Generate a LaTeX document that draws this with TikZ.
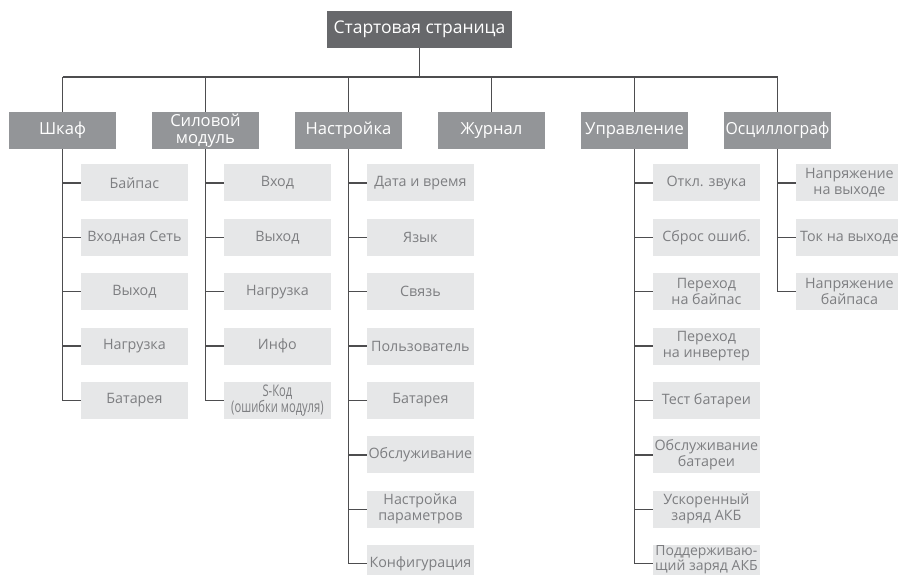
\documentclass[tikz,border=0pt]{standalone}
\usepackage{fontspec}
\setmainfont{Open Sans}
\usetikzlibrary{positioning}

\definecolor{startgray}{HTML}{67686B}
\definecolor{catgray}{HTML}{939598}
\definecolor{leafgray}{HTML}{E6E7E8}
\definecolor{leaftext}{HTML}{7D7E81}
\definecolor{linegray}{HTML}{4D4D4F}

\tikzset{
  startbox/.style={fill=startgray, text=white, minimum width=185pt, minimum height=37pt, inner sep=1pt, font=\fontsize{17.5}{18}\selectfont},
  cat/.style={fill=catgray, text=white, minimum width=107pt, minimum height=37pt, inner xsep=0pt, inner ysep=1pt, align=center, font=\fontsize{16.6}{16.5}\selectfont},
  leaf/.style={fill=leafgray, text=leaftext, minimum width=107pt, minimum height=37pt, inner xsep=0pt, inner ysep=1pt, align=center, font=\fontsize{14.3}{16}\selectfont},
  link/.style={draw=linegray, line width=1.4pt}
}

\begin{document}
\begin{tikzpicture}[x=1pt, y=1pt]
    \useasboundingbox (0,0) rectangle (898,-575);

    % top of the menu and the main sections
    \node[startbox] (start) at (419.5,-29.5) {Стартовая страница};
    \coordinate (bus) at (0,-77);
    \node[cat] (shkaf) at (62.5,-130.5) {Шкаф};
    \node[cat, right=35.6pt of shkaf] (power) {Силовой\\модуль};
    \node[cat, right=35.6pt of power] (setup) {Настройка};
    \node[cat, right=35.6pt of setup] (log) {Журнал};
    \node[cat, right=35.6pt of log] (ctrl) {Управление};
    \node[cat, right=35.6pt of ctrl] (osc) {\scalebox{0.95}[1]{Осциллограф}};

    % Шкаф
    \node[leaf, below right=15pt and -35.5pt of shkaf] (sk1) {Байпас};
    \node[leaf, below=17pt of sk1] (sk2) {Входная Сеть};
    \node[leaf, below=17pt of sk2] (sk3) {Выход};
    \node[leaf, below=17pt of sk3] (sk4) {Нагрузка};
    \node[leaf, below=17pt of sk4] (sk5) {Батарея};

    % Силовой модуль
    \node[leaf, below right=15pt and -35.5pt of power] (pw1) {Вход};
    \node[leaf, below=17pt of pw1] (pw2) {Выход};
    \node[leaf, below=17pt of pw2] (pw3) {Нагрузка};
    \node[leaf, below=17pt of pw3] (pw4) {Инфо};
    \node[leaf, below=17pt of pw4, font=\fontsize{16}{13}\selectfont] (pw5) {\scalebox{0.7}[1]{S-Код}\\\scalebox{0.7}[1]{(ошибки модуля)}};

    % Настройка
    \node[leaf, below right=15pt and -35.5pt of setup] (st1) {Дата и время};
    \node[leaf, below=17pt of st1] (st2) {Язык};
    \node[leaf, below=17pt of st2] (st3) {Связь};
    \node[leaf, below=17pt of st3] (st4) {Пользователь};
    \node[leaf, below=17pt of st4] (st5) {Батарея};
    \node[leaf, below=17pt of st5] (st6) {Обслуживание};
    \node[leaf, below=17pt of st6] (st7) {Настройка\\параметров};
    \node[leaf, below=17pt of st7] (st8) {Конфигурация};

    % Управление
    \node[leaf, below right=15pt and -35.5pt of ctrl] (ct1) {Откл. звука};
    \node[leaf, below=17pt of ct1] (ct2) {Сброс ошиб.};
    \node[leaf, below=17pt of ct2] (ct3) {Переход\\на байпас};
    \node[leaf, below=17pt of ct3] (ct4) {Переход\\на инвертер};
    \node[leaf, below=17pt of ct4] (ct5) {Тест батареи};
    \node[leaf, below=17pt of ct5] (ct6) {Обслуживание\\батареи};
    \node[leaf, below=17pt of ct6] (ct7) {Ускоренный\\заряд АКБ};
    % last item sits on the lower edge, its text goes a little higher
    \node[leaf, below=17pt of ct7,
          label={[text=leaftext, align=center, font=\fontsize{14}{15}\selectfont, yshift=4pt]center:Поддерживаю-\\щий заряд АКБ}] (ct8) {};

    % Осциллограф
    \node[leaf, below right=15pt and -35.5pt of osc] (os1) {Напряжение\\на выходе};
    \node[leaf, below=17pt of os1] (os2) {Ток на выходе};
    \node[leaf, below=17pt of os2] (os3) {Напряжение\\байпаса};

    % bus under the start page
    \draw[link] (start.south) -- (start.south |- bus);
    \draw[link] (shkaf.north |- bus) -- (osc.north |- bus);
    \draw[link] (shkaf.north) -- (shkaf.north |- bus);
    \draw[link] (power.north) -- (power.north |- bus);
    \draw[link] (setup.north) -- (setup.north |- bus);
    \draw[link] (log.north) -- (log.north |- bus);
    \draw[link] (ctrl.north) -- (ctrl.north |- bus);
    \draw[link] (osc.north) -- (osc.north |- bus);

    % branches to the items
    \draw[link] (shkaf.south) |- (sk1.west);
    \draw[link] (shkaf.south) |- (sk2.west);
    \draw[link] (shkaf.south) |- (sk3.west);
    \draw[link] (shkaf.south) |- (sk4.west);
    \draw[link] (shkaf.south) |- (sk5.west);

    \draw[link] (power.south) |- (pw1.west);
    \draw[link] (power.south) |- (pw2.west);
    \draw[link] (power.south) |- (pw3.west);
    \draw[link] (power.south) |- (pw4.west);
    \draw[link] (power.south) |- (pw5.west);

    \draw[link] (setup.south) |- (st1.west);
    \draw[link] (setup.south) |- (st2.west);
    \draw[link] (setup.south) |- (st3.west);
    \draw[link] (setup.south) |- (st4.west);
    \draw[link] (setup.south) |- (st5.west);
    \draw[link] (setup.south) |- (st6.west);
    \draw[link] (setup.south) |- (st7.west);
    \draw[link] (setup.south) |- (st8.west);

    \draw[link] (ctrl.south) |- (ct1.west);
    \draw[link] (ctrl.south) |- (ct2.west);
    \draw[link] (ctrl.south) |- (ct3.west);
    \draw[link] (ctrl.south) |- (ct4.west);
    \draw[link] (ctrl.south) |- (ct5.west);
    \draw[link] (ctrl.south) |- (ct6.west);
    \draw[link] (ctrl.south) |- (ct7.west);
    \draw[link] (ctrl.south) |- (ct8.west);

    \draw[link] (osc.south) |- (os1.west);
    \draw[link] (osc.south) |- (os2.west);
    \draw[link] (osc.south) |- (os3.west);
\end{tikzpicture}
\end{document}
